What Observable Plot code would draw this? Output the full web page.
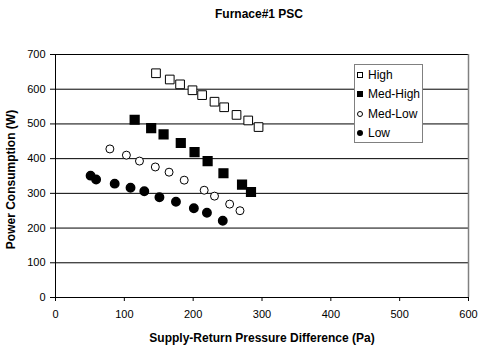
<!DOCTYPE html>
<html>
<head>
<meta charset="utf-8">
<script src="https://cdn.jsdelivr.net/npm/d3@7"></script>
<script src="https://cdn.jsdelivr.net/npm/@observablehq/plot@0.6"></script>
<style>
  html, body { margin: 0; padding: 0; background: #fff; }
  #wrap { position: relative; width: 479px; height: 350px; font-family: "Liberation Sans", Arial, sans-serif; }
  #legend { position: absolute; left: 354px; top: 64px; width: 67px; height: 77px; border: 1px solid #808080; background: #fff; font-size: 12px; color: #000; }
  #legend .item { position: absolute; left: 2px; height: 14px; line-height: 14px; display: flex; align-items: center; white-space: nowrap; }
  #legend svg { margin-right: 5px; }
</style>
</head>
<body>
<div id="wrap"></div>
<script>
const title = "Furnace#1 PSC";
const xLabel = "Supply-Return Pressure Difference (Pa)";
const yLabel = "Power Consumption (W)";
const xTicks = [0, 100, 200, 300, 400, 500, 600];
const yTicks = [0, 100, 200, 300, 400, 500, 600, 700];
const seriesNames = ["High", "Med-High", "Med-Low", "Low"];

const highX = [146, 166, 181, 199, 213, 231, 245, 263, 280, 295];
const highY = [646, 628, 614, 597, 583, 564, 548, 526, 510, 491];
const medHighX = [115, 139, 157, 182, 202, 221, 244, 271, 284];
const medHighY = [512, 488, 470, 445, 419, 393, 358, 325, 304];
const medLowX = [79, 103, 122, 145, 165, 187, 216, 231, 253, 268];
const medLowY = [428, 410, 393, 376, 361, 338, 309, 292, 269, 250];
const lowX = [51, 59, 86, 109, 129, 151, 175, 201, 220, 243];
const lowY = [351, 340, 328, 316, 306, 289, 276, 257, 244, 221];

const toRows = (xs, ys, s) => xs.map((x, i) => ({x, y: ys[i], s}));
const high = toRows(highX, highY, seriesNames[0]);
const medHigh = toRows(medHighX, medHighY, seriesNames[1]);
const medLow = toRows(medLowX, medLowY, seriesNames[2]);
const low = toRows(lowX, lowY, seriesNames[3]);

const chart = Plot.plot({
  width: 479,
  height: 350,
  marginLeft: 55,
  marginRight: 11,
  marginTop: 54,
  marginBottom: 53,
  style: { fontFamily: "Liberation Sans, Arial, sans-serif", fontSize: "11px", color: "#000", background: "#fff" },
  x: { domain: [0, 600] },
  y: { domain: [0, 700] },
  marks: [
    Plot.ruleY(yTicks.filter(d => d > 0), { stroke: "#000", strokeWidth: 1 }),
    Plot.ruleX([600], { stroke: "#808080", strokeWidth: 1.5 }),
    Plot.ruleX([0], { stroke: "#000", strokeWidth: 1 }),
    Plot.ruleY([0], { stroke: "#000", strokeWidth: 1 }),
    Plot.axisX({ ticks: xTicks, tickSize: 4, tickPadding: 9, label: null, stroke: "#000", fontSize: 11 }),
    Plot.axisY({ ticks: yTicks, tickSize: 5, tickPadding: 5, label: null, stroke: "#000", fontSize: 11 }),
    Plot.dot(high, { x: "x", y: "y", symbol: "square", r: 4.9, stroke: "#000", strokeWidth: 1, fill: "#fff" }),
    Plot.dot(medHigh, { x: "x", y: "y", symbol: "square", r: 4.9, stroke: "#000", fill: "#000" }),
    Plot.dot(medLow, { x: "x", y: "y", symbol: "circle", r: 4, stroke: "#000", strokeWidth: 1, fill: "#fff" }),
    Plot.dot(low, { x: "x", y: "y", symbol: "circle", r: 4.2, stroke: "#000", fill: "#000" }),
    Plot.text([title], { frameAnchor: "top", lineAnchor: "middle", textAnchor: "middle", dx: -3, dy: -40, fontWeight: "bold", fontSize: 12 }),
    Plot.text([xLabel], { frameAnchor: "bottom", lineAnchor: "middle", textAnchor: "middle", dy: 41, fontWeight: "bold", fontSize: 12 }),
    Plot.text([yLabel], { frameAnchor: "left", lineAnchor: "middle", textAnchor: "middle", rotate: -90, dx: -44, dy: 3.5, fontWeight: "bold", fontSize: 12 })
  ]
});

const wrap = document.getElementById("wrap");
wrap.appendChild(chart);

const legend = document.createElement("div");
legend.id = "legend";
const markers = [
  '<rect x="0.5" y="0.5" width="5" height="5" fill="#fff" stroke="#000"/>',
  '<rect x="0" y="0" width="6" height="6" fill="#000"/>',
  '<circle cx="3" cy="3" r="2.5" fill="#fff" stroke="#000"/>',
  '<circle cx="3" cy="3" r="3" fill="#000"/>'
];
seriesNames.forEach((name, i) => {
  const item = document.createElement("div");
  item.className = "item";
  item.style.top = (3 + i * 19.4) + "px";
  item.innerHTML = '<svg width="6" height="6">' + markers[i] + '</svg><span>' + name + '</span>';
  legend.appendChild(item);
});
wrap.appendChild(legend);
</script>
</body>
</html>
